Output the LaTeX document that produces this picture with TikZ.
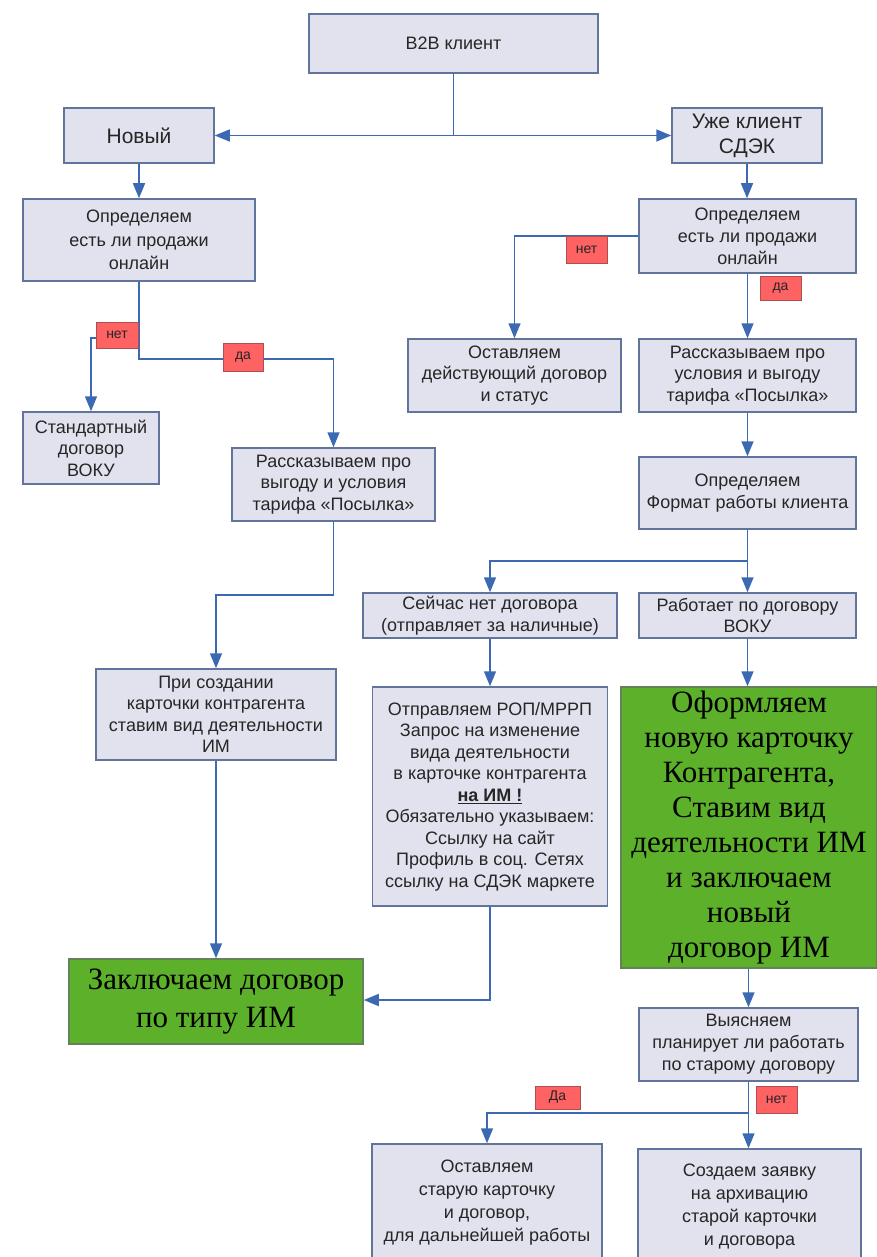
\documentclass[tikz,border=0pt]{standalone}
\usepackage{fontspec}
\setmainfont{Liberation Sans}
\newfontfamily\serifcyr{Liberation Serif}
\usetikzlibrary{arrows.meta}
\definecolor{boxfill}{RGB}{226,226,238}
\definecolor{boxline}{RGB}{96,116,156}
\definecolor{connc}{RGB}{60,106,178}
\definecolor{lblfill}{RGB}{255,98,98}
\definecolor{lblline}{RGB}{170,80,80}
\definecolor{greenfill}{RGB}{92,176,42}
\definecolor{greenline}{RGB}{100,130,90}
\begin{document}
\begin{tikzpicture}[x=1pt,y=-1pt,
  box/.style={draw=boxline, fill=boxfill, line width=1.5pt, align=center, inner sep=0pt, text=black!85, font=\fontsize{18}{21.5}\selectfont},
  gbox/.style={draw=greenline, fill=greenfill, line width=1.5pt, align=center, inner sep=0pt, text=black, font=\serifcyr\fontsize{31}{35}\selectfont},
  lbl/.style={draw=lblline, fill=lblfill, line width=1pt, inner sep=0pt, text=black!85, font=\fontsize{14}{16}\selectfont},
  conn/.style={draw=connc, line width=1.5pt},
  arr/.style={conn, -{Triangle[length=15pt,width=12pt]}},
  big/.style={font=\fontsize{21}{25}\selectfont}
]
\clip (0,0) rectangle (877,1257);
\fill[white] (0,0) rectangle (877,1257);

% boxes
\node[box, minimum width=289, minimum height=59] (b2b) at (453.5,43.5) {B2B клиент};
\node[box, big, minimum width=150, minimum height=55] (new) at (139,135.5) {Новый};
\node[box, big, minimum width=150, minimum height=55] (exist) at (747,135.5) {Уже клиент\\СДЭК};
\node[box, minimum width=232, minimum height=82, font=\fontsize{18}{23.5}\selectfont] (detL) at (139,240) {Определяем\\есть ли продажи\\онлайн};
\node[box, minimum width=217, minimum height=74, font=\fontsize{18}{22}\selectfont] (detR) at (747.5,236) {Определяем\\есть ли продажи\\онлайн};
\node[box, minimum width=213, minimum height=73] (ostavl) at (514.5,375.5) {Оставляем\\действующий договор\\и статус};
\node[box, minimum width=217, minimum height=73] (rassR) at (747.5,375.5) {Рассказываем про\\условия и выгоду\\тарифа «Посылка»};
\node[box, minimum width=136, minimum height=72] (std) at (91,448) {Стандартный\\договор\\ВОКУ};
\node[box, minimum width=203, minimum height=73] (rassL) at (333.5,484.5) {Рассказываем про\\выгоду и условия\\тарифа «Посылка»};
\node[box, minimum width=217, minimum height=72] (format) at (747.5,493) {Определяем\\Формат работы клиента};
\node[box, minimum width=254, minimum height=45] (now) at (490,615.5) {Сейчас нет договора\\(отправляет за наличные)};
\node[box, minimum width=217, minimum height=45] (works) at (747.5,615.5) {Работает по договору\\ВОКУ};
\node[box, minimum width=240, minimum height=91] (create) at (216,714.5) {При создании\\карточки контрагента\\ставим вид деятельности\\ИМ};
\node[box, minimum width=235, minimum height=219] (send) at (490,796.5) {Отправляем РОП/МРРП\\Запрос на изменение\\вида деятельности\\в карточке контрагента\\\underline{\textbf{на ИМ !}}\\Обязательно указываем:\\Ссылку на сайт\\Профиль в соц. Сетях\\ссылку на СДЭК маркете};
\node[gbox, minimum width=256, minimum height=281] (green1) at (749,827.5) {Оформляем\\новую карточку\\Контрагента,\\Ставим вид\\деятельности ИМ\\и заключаем\\новый\\договор ИМ};
\node[gbox, minimum width=294, minimum height=85, font=\serifcyr\fontsize{31}{38}\selectfont] (green2) at (216,1001.5) {Заключаем договор\\по типу ИМ};
\node[box, minimum width=219, minimum height=73, font=\fontsize{18}{22}\selectfont] (clarify) at (748.5,1044.5) {Выясняем\\планирует ли работать\\по старому договору};
\node[box, minimum width=230, minimum height=118, font=\fontsize{18}{23}\selectfont] (keep) at (487,1203) {Оставляем\\старую карточку\\и договор,\\для дальнейшей работы};
\node[box, minimum width=223, minimum height=116, font=\fontsize{18}{23}\selectfont] (archive) at (749.5,1207) {Создаем заявку\\на архивацию\\старой карточки\\и договора};

% connectors
\coordinate (split) at (453.5,135.5);
\draw[conn] (b2b.south) -- (split);
\draw[arr] (split) -- (new.east);
\draw[arr] (split) -- (exist.west);
\draw[arr] (new.south) -- (detL.north);
\draw[arr] (exist.south) -- (exist.south |- detR.north);

\coordinate (c1) at (139,359);
\coordinate (c2) at (139,338);
\draw[arr] (detL.south) -- (c1) -| (rassL.north);
\draw[arr] (c2) -| (std.north);

\draw[arr] (detR.west) -| (ostavl.north);
\draw[arr] (detR.south) -- (rassR.north);
\draw[arr] (rassR.south) -- (format.north);

\coordinate (c3) at (747.5,561);
\draw[arr] (format.south) -- (works.north);
\draw[arr] (c3) -| (now.north);

\coordinate (c4) at (333.5,595);
\draw[arr] (rassL.south) -- (c4) -| (create.north);
\draw[arr] (create.south) -- (green2.north);
\draw[arr] (now.south) -- (send.north);
\draw[arr] (works.south) -- (works.south |- green1.north);

\coordinate (c5) at (490,1000);
\draw[arr] (send.south) -- (c5) -- (c5 -| green2.east);

\draw[arr] (clarify.north |- green1.south) -- (clarify.north);
\coordinate (c6) at (748.5,1113);
\draw[arr] (clarify.south) -- (clarify.south |- archive.north);
\draw[arr] (c6) -| (keep.north);

% labels
\node[lbl, minimum width=42, minimum height=26] (netL) at (117,335) {нет};
\node[lbl, minimum width=40, minimum height=28] (daL) at (243,357) {да};
\node[lbl, minimum width=41, minimum height=27] (netR) at (586.5,250) {нет};
\node[lbl, minimum width=41, minimum height=24] (daR) at (780.5,288) {да};
\node[lbl, minimum width=45, minimum height=23] (daB) at (557.5,1097.5) {Да};
\node[lbl, minimum width=41, minimum height=27] (netB) at (776.5,1099.5) {нет};
\end{tikzpicture}
\end{document}
